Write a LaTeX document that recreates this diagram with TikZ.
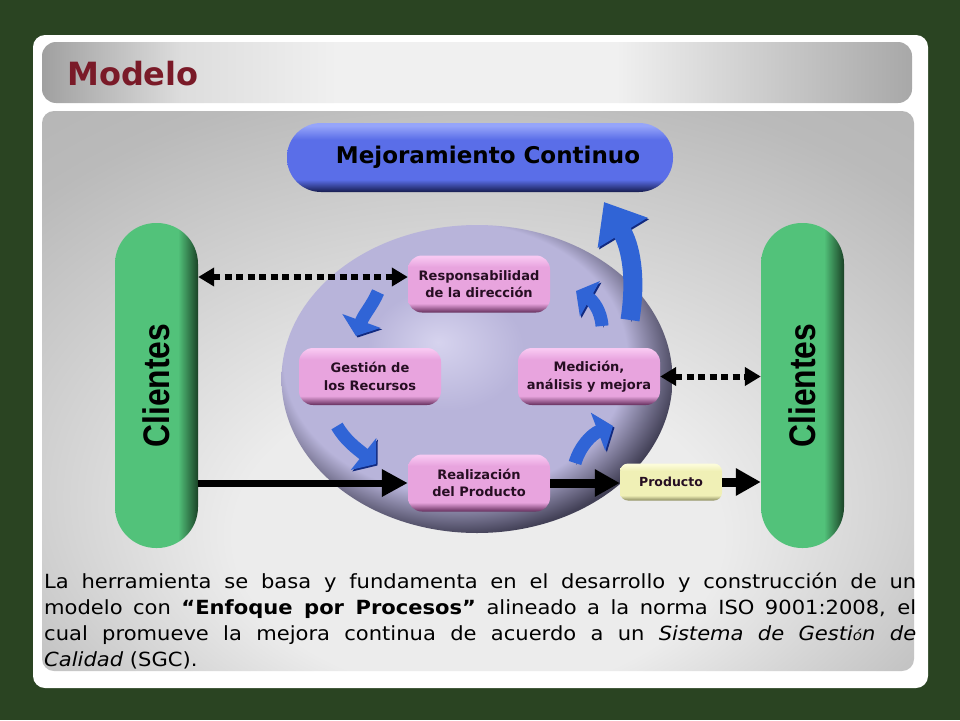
\documentclass[tikz,border=0pt]{standalone}
\usepackage{fontspec}
\setmainfont{DejaVu Sans}[FakeStretch=1.08]
\newfontfamily\cajafont{DejaVu Sans}
\newfontfamily\clientesfont{Liberation Sans}
\usetikzlibrary{arrows.meta,shapes.geometric}

% Colores
\definecolor{fondo}{RGB}{42,68,34}
\definecolor{titulo}{RGB}{122,26,40}
\definecolor{texto}{RGB}{38,14,34}
\definecolor{azulC}{RGB}{150,165,250}
\definecolor{azul}{RGB}{90,110,232}
\definecolor{azulO}{RGB}{22,28,78}
\definecolor{rosaC}{RGB}{248,200,242}
\definecolor{rosa}{RGB}{232,164,222}
\definecolor{rosaO}{RGB}{100,46,92}
\definecolor{amaC}{RGB}{252,252,218}
\definecolor{ama}{RGB}{240,240,182}
\definecolor{amaO}{RGB}{140,140,96}
\definecolor{verde}{RGB}{82,194,122}
\definecolor{verdeO}{RGB}{26,66,38}
\definecolor{lilaC}{RGB}{214,211,238}
\definecolor{lila}{RGB}{184,180,218}
\definecolor{lilaO}{RGB}{66,64,86}
\definecolor{flecha}{RGB}{48,100,214}
\definecolor{flechaO}{RGB}{18,42,128}
\definecolor{cabO}{RGB}{160,160,160}
\definecolor{cabC}{RGB}{240,240,240}
\definecolor{panelC}{RGB}{236,236,236}
\definecolor{panelM}{RGB}{186,186,186}
\definecolor{panelO}{RGB}{172,172,172}

% Sombreados
\pgfdeclareverticalshading{shAzul}{100bp}{color(0bp)=(azulO); color(25bp)=(azulO); color(34bp)=(azul); color(63bp)=(azul); color(73bp)=(azulC); color(100bp)=(azulC)}
\pgfdeclareverticalshading{shRosa}{100bp}{color(0bp)=(rosaO); color(25bp)=(rosaO); color(33bp)=(rosa); color(65bp)=(rosa); color(74bp)=(rosaC); color(100bp)=(rosaC)}
\pgfdeclareverticalshading{shAma}{100bp}{color(0bp)=(amaO); color(25bp)=(amaO); color(32bp)=(ama); color(65bp)=(ama); color(74bp)=(amaC); color(100bp)=(amaC)}
\pgfdeclarehorizontalshading{shVerde}{100bp}{color(0bp)=(verde); color(25bp)=(verde); color(63bp)=(verde); color(75bp)=(verdeO); color(100bp)=(verdeO)}
\pgfdeclareradialshading{shLila}{\pgfpoint{-5bp}{6bp}}{color(0bp)=(lilaC); color(10bp)=(lila); color(22bp)=(lila); color(28bp)=(lilaO); color(50bp)=(lilaO)}
\pgfdeclarehorizontalshading{shCabecera}{100bp}{color(0bp)=(cabO); color(25bp)=(cabO); color(33bp)=(cabC!92!black); color(42bp)=(cabC); color(58bp)=(cabC); color(75bp)=(cabO!105!black); color(100bp)=(cabO)}
\pgfdeclareradialshading{shPanel}{\pgfpoint{0bp}{-18bp}}{color(0bp)=(panelC); color(14bp)=(panelC); color(34bp)=(panelM); color(50bp)=(panelO)}

\tikzset{
  caja/.style={shade, shading=shRosa, rounded corners=14pt, minimum width=142pt,
    minimum height=57pt, inner sep=0pt, align=center, text=texto,
    font=\cajafont\bfseries\fontsize{13}{17.5}\selectfont},
  producto/.style={shade, shading=shAma, rounded corners=8pt, minimum width=102pt,
    minimum height=37pt, inner sep=0pt, text=texto,
    font=\cajafont\bfseries\fontsize{12.5}{15}\selectfont},
  pastilla/.style={shade, shading=shAzul, rounded corners=34pt, minimum width=386pt,
    minimum height=69pt, inner sep=0pt, text=black,
    font=\cajafont\bfseries\fontsize{23}{26}\selectfont},
  clientes/.style={shade, shading=shVerde, rounded corners=41pt, minimum width=83pt,
    minimum height=325pt, inner sep=0pt,
    label={[rotate=90, text=black, font=\clientesfont\bfseries\fontsize{37}{40}\selectfont]center:\scalebox{0.86}[1]{Clientes}}},
  elipse/.style={ellipse, shade, shading=shLila, minimum width=391pt,
    minimum height=308pt, inner sep=0pt},
  punteada/.style={line width=6pt, dash pattern=on 7pt off 4.5pt,
    {Triangle[length=16pt,width=18pt]}-{Triangle[length=16pt,width=18pt]}},
  solida/.style={line width=7pt, -{Triangle[length=26pt,width=26pt]}},
  gruesa/.style={line width=9pt, -{Triangle[length=25pt,width=26pt]}},
  giro/.style={line width=13pt, draw=flecha, -{Triangle[length=16pt,width=40pt]},
    preaction={draw=flechaO, transform canvas={shift={(1.5pt,-1.5pt)}}}}
}

\begin{document}
\begin{tikzpicture}[x=1pt, y=-1pt]
  % --- Fondo y paneles ---
  \fill[fondo] (0,0) rectangle (960,720);
  \useasboundingbox (0,0) rectangle (960,720);
  \fill[white, rounded corners=12pt] (33,35) rectangle (928,688);
  \shade[shading=shCabecera, rounded corners=14pt] (42,42) rectangle (912,103);
  \shade[shading=shPanel, rounded corners=12pt] (42,111) rectangle (914,671);
  \node[anchor=base west, inner sep=0pt, text=titulo,
    font=\cajafont\bfseries\fontsize{32}{38}\selectfont] (titulo) at (67,85) {Modelo};

  % --- Nodos del modelo ---
  \node[pastilla] (mejora) at (480,157.5) {\hspace*{16pt}Mejoramiento Continuo};
  \node[clientes] (cliI) at (156.5,385.5) {};
  \node[clientes] (cliD) at (802.5,385.5) {};
  \node[elipse] (ciclo) at (477,379) {};
  \node[caja] (resp) at (479,284) {Responsabilidad\\de la dirección};
  \node[caja] (gest) at (370,376.5) {Gestión de\\los Recursos};
  \node[caja] (med) at (589,376.5) {Medición,\\análisis y mejora};
  \node[caja] (real) at (479,483) {Realización\\del Producto};
  \node[producto] (prod) at (671,482) {Producto};

  % --- Flechas con los clientes ---
  \coordinate (pR) at ([yshift=7pt]resp.west);
  \draw[punteada] (pR -| cliI.east) -- (pR);
  \draw[punteada] (med.east) -- (med.east -| cliD.west);
  \draw[solida] (real.west -| cliI.east) -- (real.west);
  \draw[gruesa] (real.east) -- (real.east -| prod.west);
  \draw[gruesa] (prod.east) -- (prod.east -| cliD.west);

  % --- Flechas del ciclo ---
  \draw[giro] (378,292) .. controls (372,306) and (364,314) .. (356,336);
  \draw[giro] (337,426) .. controls (345,440) and (356,448) .. (376,464);
  \draw[giro] (575,463) .. controls (580,446) and (592,434) .. (613,426);
  \draw[giro] (602,326) .. controls (601,310) and (592,300) .. (576,291);
  \draw[giro, line width=19pt, -{Triangle[length=36pt,width=56pt]}]
    (630,320) .. controls (637,275) and (630,245) .. (604,202);

  % --- Texto ---
  \node[anchor=base west, inner sep=0pt] (texto) at (44,588) {\parbox[t]{872pt}{%
    \fontsize{19.5}{26}\selectfont\tolerance=9999
    La herramienta se basa y fundamenta en el desarrollo y construcción de un\linebreak
    modelo con \textbf{“Enfoque por Procesos”} alineado a la norma ISO 9001:2008, el\linebreak
    cual promueve la mejora continua de acuerdo a un \textit{Sistema de Gesti{\fontsize{14}{26}\selectfont ó}n de}\linebreak
    \textit{Calidad} (SGC).}};
\end{tikzpicture}
\end{document}
